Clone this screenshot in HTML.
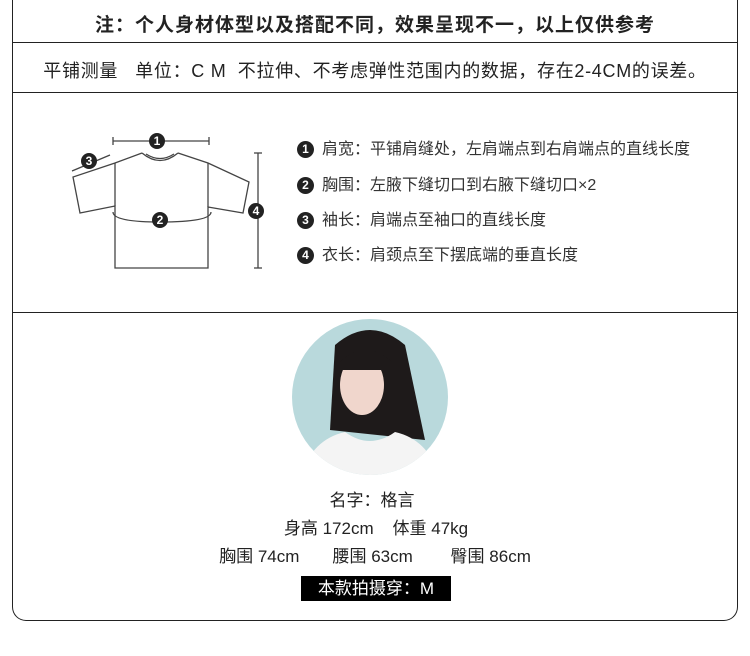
<!DOCTYPE html>
<html><head><meta charset="utf-8"><style>
body{margin:0;width:750px;height:656px;background:#fff;font-family:"Liberation Sans","Noto Sans CJK SC",sans-serif;position:relative;overflow:hidden;color:#222}
.frame{position:absolute;left:12px;top:-4px;width:724px;height:624px;border:1.5px solid #222;border-top:none;border-radius:0 0 14px 14px}
.hl{position:absolute;left:12px;width:726px;height:0;border-top:1.5px solid #222}
.t{position:absolute;left:0;width:750px;text-align:center;white-space:nowrap}
.lg{position:absolute;left:297px;font-size:16px;color:#333;white-space:nowrap}
.lg b{display:inline-block;width:17px;height:17px;border-radius:50%;background:#222;color:#fff;font-size:12px;text-align:center;line-height:17px;margin-right:8px;vertical-align:1px;font-family:"Liberation Sans",sans-serif}
</style></head><body>
<div class="frame"></div>
<div class="hl" style="top:42px"></div>
<div class="hl" style="top:92px"></div>
<div class="hl" style="top:312px"></div>
<div class="t" style="top:10px;font-size:19px;letter-spacing:1px;font-weight:bold;color:#222">注：个人身材体型以及搭配不同，效果呈现不一，以上仅供参考</div>
<div class="t" style="top:57px;font-size:18px;letter-spacing:0.7px;color:#222">平铺测量&nbsp;&nbsp;&nbsp;单位：C M&nbsp;&nbsp;不拉伸、不考虑弹性范围内的数据，存在2-4CM的误差。</div>
<svg style="position:absolute;left:0;top:0" width="750" height="656">
<g stroke="#444" stroke-width="1.3" fill="none">
<line x1="113" y1="141" x2="209" y2="141"/><line x1="113" y1="137" x2="113" y2="145"/><line x1="209" y1="137" x2="209" y2="145"/>
<path d="M142,153 L115,163 L73,177 L80,213 L115,206 L115,268 L208,268 L208,207 L243,213 L249,182 L208,163 L178,153"/>
<line x1="115" y1="163" x2="115" y2="206"/><line x1="208" y1="163" x2="208" y2="207"/>
<path d="M142,153 Q160,168 178,153"/><path d="M146,154 Q160,163 174,154"/>
<path d="M113,212 Q113,222 160,222 Q211,222 211,212"/>
<line x1="258" y1="153" x2="258" y2="268"/><line x1="254" y1="153" x2="262" y2="153"/><line x1="254" y1="268" x2="262" y2="268"/>
<line x1="72" y1="171" x2="110" y2="155"/>
</g>
<g fill="#222"><circle cx="157" cy="141" r="8"/><circle cx="160" cy="220" r="8"/><circle cx="89" cy="161" r="8"/><circle cx="256" cy="211" r="8"/></g>
<g fill="#fff" font-size="12" font-weight="bold" text-anchor="middle" font-family="Liberation Sans,sans-serif"><text x="157" y="145">1</text><text x="160" y="224">2</text><text x="89" y="165">3</text><text x="256" y="215">4</text></g>
<defs><clipPath id="c"><circle cx="370" cy="397" r="78"/></clipPath></defs>
<g clip-path="url(#c)">
<rect x="290" y="318" width="160" height="160" fill="#b9d9dc"/>
<path d="M335,345 Q370,315 405,345 L425,440 L330,430 Z" fill="#1e1a1a"/>
<ellipse cx="362" cy="385" rx="22" ry="30" fill="#f0d6cc"/>
<path d="M340,362 Q365,338 392,362 L392,370 L340,370Z" fill="#1e1a1a"/>
<path d="M300,480 Q310,440 345,432 Q370,450 395,432 Q430,440 440,480Z" fill="#f4f4f4"/>
</g>
</svg>
<div class="lg" style="top:135px"><b>1</b>肩宽：平铺肩缝处，左肩端点到右肩端点的直线长度</div>
<div class="lg" style="top:171px"><b>2</b>胸围：左腋下缝切口到右腋下缝切口×2</div>
<div class="lg" style="top:206px"><b>3</b>袖长：肩端点至袖口的直线长度</div>
<div class="lg" style="top:241px"><b>4</b>衣长：肩颈点至下摆底端的垂直长度</div>
<div class="t" style="top:486px;font-size:17px;left:-3px">名字：格言</div>
<div class="t" style="top:514px;font-size:17px;left:1px">身高 172cm&nbsp;&nbsp;&nbsp;&nbsp;体重 47kg</div>
<div class="t" style="top:542px;font-size:17px;left:0">胸围 74cm&nbsp;&nbsp;&nbsp;&nbsp;&nbsp;&nbsp;&nbsp;腰围 63cm&nbsp;&nbsp;&nbsp;&nbsp;&nbsp;&nbsp;&nbsp;&nbsp;臀围 86cm</div>
<div style="position:absolute;left:301px;top:576px;width:150px;height:25px;background:#000;color:#fff;font-size:17px;text-align:center;line-height:25px">本款拍摄穿：M</div>
</body></html>
